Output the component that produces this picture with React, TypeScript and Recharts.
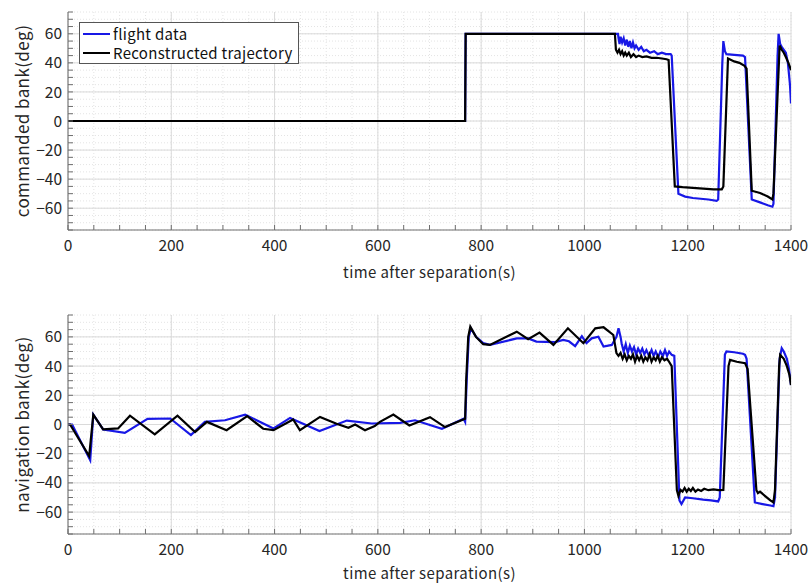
import React from "react";
import {
  LineChart,
  Line,
  XAxis,
  YAxis,
  CartesianGrid,
  Legend,
} from "recharts";

// [time (s), bank (deg)]
const cmdFlight: [number, number][] = [
  [0, 0], [769, 0], [770, 60], [1065, 60], [1066, 57], [1068, 53], [1070, 58],
  [1073, 54], [1076, 57], [1079, 52], [1082, 56], [1085, 51], [1088, 55],
  [1091, 50], [1094, 54], [1097, 50], [1100, 52], [1105, 49], [1110, 51],
  [1115, 48], [1120, 49], [1127, 47], [1135, 48], [1142, 46], [1150, 47],
  [1158, 46], [1167, 46], [1169, 45], [1182, -50], [1195, -52], [1210, -53],
  [1225, -53.5], [1240, -54], [1256, -55], [1259, -54], [1267, 40], [1269, 55],
  [1272, 48], [1275, 46], [1290, 45.5], [1307, 45], [1311, 44], [1324, -54],
  [1340, -56], [1355, -58], [1364, -59], [1366, -57], [1374, 45], [1376, 60],
  [1379, 53], [1382, 51], [1390, 47], [1394, 40], [1398, 25], [1400, 12],
];

const cmdRecon: [number, number][] = [
  [0, 0], [769, 0], [770, 60], [1059, 60], [1061, 49], [1064, 47], [1067, 49],
  [1070, 46], [1073, 48], [1076, 45], [1079, 47], [1082, 45], [1086, 47],
  [1090, 44], [1095, 46], [1100, 44], [1105, 45], [1112, 44], [1120, 44.5],
  [1130, 43.5], [1140, 43.5], [1150, 43], [1159, 42.5], [1163, 42],
  [1175, -45], [1190, -45.5], [1210, -46], [1230, -46.5], [1250, -47],
  [1266, -47], [1269, -45], [1278, 43], [1290, 41], [1300, 40], [1310, 38],
  [1314, 36], [1324, -48], [1340, -49.5], [1355, -52], [1364, -54],
  [1366, -50], [1378, 52], [1382, 49], [1386, 47], [1390, 44], [1395, 40],
  [1400, 35],
];

const navFlight: [number, number][] = [
  [0, 0], [8, 0], [43, -24.5], [49, 6.8], [68, -3.4], [110, -5.7], [154, 3.9],
  [198, 4.1], [238, -7.3], [265, 1.8], [304, 2.9], [343, 6.8], [398, -2.7],
  [430, 4.5], [487, -4.5], [540, 2.7], [588, 0.7], [643, 1.1], [672, 2.9],
  [724, -2.9], [766, 3.9], [769, 1.8], [772, 30], [776, 60], [780, 66],
  [790, 60], [804, 55.7], [817, 54.5], [869, 59], [891, 59], [907, 56.8],
  [943, 56.4], [959, 58], [970, 57], [982, 53.7], [995, 60.5], [1004, 55.7],
  [1014, 59], [1027, 60.1], [1037, 53.4], [1053, 54.5], [1062, 60],
  [1066, 65.9], [1070, 60], [1072, 55.7], [1076, 50], [1080, 55], [1084, 49],
  [1088, 54], [1092, 50], [1096, 53], [1100, 48], [1104, 52], [1108, 49],
  [1112, 52], [1116, 48], [1120, 51], [1125, 47], [1130, 51], [1134, 47],
  [1138, 50], [1143, 46], [1147, 50], [1152, 47], [1156, 51], [1160, 47],
  [1164, 50], [1169, 47.7], [1174, 47], [1184, -52], [1188, -54.5],
  [1195, -50], [1210, -50.5], [1230, -51.5], [1245, -52], [1259, -52.7],
  [1262, -50], [1272, 48], [1275, 50], [1290, 49.5], [1307, 48.5],
  [1311, 47.7], [1314, 45], [1330, -53.4], [1345, -54.5], [1360, -55.5],
  [1366, -56], [1369, -50], [1378, 45], [1382, 52.3], [1386, 50], [1392, 45],
  [1396, 38], [1400, 27],
];

const navRecon: [number, number][] = [
  [0, 0], [4, 0], [41, -21.6], [49, 6.8], [68, -3.4], [97, -2.7], [120, 6],
  [168, -6.8], [212, 6], [246, -5.2], [269, 1.8], [307, -3.9], [347, 5.7],
  [378, -2.9], [398, -3.9], [436, 3.4], [449, -3.9], [488, 5.2], [520, 0.5],
  [543, -2.3], [556, 0], [575, -3.9], [594, -1.1], [604, 1.8], [630, 6.8],
  [661, -0.7], [701, 5], [730, -1.8], [769, 3.9], [771, 30], [775, 60],
  [779, 67], [790, 60], [804, 55], [817, 54.5], [869, 63.6], [891, 58.4],
  [913, 62.9], [940, 54.5], [968, 65.9], [998, 55.7], [1021, 65.9],
  [1037, 66.6], [1056, 61.3], [1062, 48.9], [1066, 47], [1070, 49], [1074, 45],
  [1078, 48], [1082, 44], [1086, 47], [1090, 45], [1094, 48], [1098, 43],
  [1102, 47], [1106, 44], [1110, 47], [1114, 43], [1118, 46], [1122, 44],
  [1126, 48], [1130, 43], [1134, 46], [1138, 44], [1142, 47], [1146, 43],
  [1150, 46], [1155, 44], [1160, 45], [1163, 43.5], [1169, 40], [1179, -45],
  [1182, -49], [1186, -44.8], [1190, -46], [1194, -43.5], [1198, -46],
  [1202, -44], [1206, -45.5], [1210, -43.5], [1215, -46], [1220, -44.5],
  [1226, -45.5], [1232, -44], [1240, -45], [1250, -44.5], [1260, -45],
  [1269, -44.8], [1279, 40], [1282, 44.3], [1295, 43], [1311, 42], [1316, 38],
  [1333, -45], [1336, -47], [1340, -46], [1350, -49], [1360, -52],
  [1366, -53.4], [1369, -45], [1377, 40], [1379, 47.7], [1386, 45],
  [1392, 40], [1397, 34], [1400, 27],
];

const xMajor = [0, 200, 400, 600, 800, 1000, 1200, 1400];
const xMinor = Array.from({ length: 29 }, (_, i) => i * 50);
const yMajor = [-60, -40, -20, 0, 20, 40, 60];
const yMinor = Array.from({ length: 31 }, (_, i) => -75 + i * 5);

const FONT = '"Noto Sans CJK JP", "Noto Sans", sans-serif';
const BLUE = "#1818e6";
const FRAME = "#6e6e6e";
const TEXT = "#262626";

const rows = (pts: [number, number][]) => pts.map(([t, v]) => ({ t, v }));

const fmt = (v: number) => (v < 0 ? "\u2212" + Math.abs(v) : String(v));

const XTick = (props: any) => {
  const { x, y, payload } = props;
  if (payload.value % 200 !== 0) return <g />;
  return (
    <text x={x} y={y} dy="0.71em" textAnchor="middle" fill={TEXT}
      fontSize={15.5} fontFamily={FONT}>
      {payload.value}
    </text>
  );
};

const YTick = (props: any) => {
  const { x, y, payload } = props;
  if (payload.value % 20 !== 0) return <g />;
  return (
    <text x={x} y={y} dy="0.36em" textAnchor="end" fill={TEXT}
      fontSize={15.5} fontFamily={FONT}>
      {fmt(payload.value)}
    </text>
  );
};

const LegendBox = () => (
  <div
    style={{
      border: "1px solid #555",
      background: "#fff",
      padding: "1px 5px 1px 3px",
      fontFamily: FONT,
      fontSize: 15,
      color: "#111",
      lineHeight: "19px",
      whiteSpace: "nowrap",
      letterSpacing: 0.3,
    }}
  >
    {[
      { name: "flight data", color: BLUE },
      { name: "Reconstructed trajectory", color: "#000" },
    ].map((e) => (
      <div key={e.name} style={{ display: "flex", alignItems: "center" }}>
        <span
          style={{
            display: "inline-block",
            width: 27,
            height: 0,
            borderTop: `2px solid ${e.color}`,
            marginRight: 3,
          }}
        />
        {e.name}
      </div>
    ))}
  </div>
);

function Panel({
  flight,
  recon,
  ylabel,
  height,
  marginTop,
  xAxisHeight,
  labelOffset,
  legend,
}: {
  flight: [number, number][];
  recon: [number, number][];
  ylabel: string;
  height: number;
  marginTop: number;
  xAxisHeight: number;
  labelOffset: number;
  legend?: boolean;
}) {
  return (
    <LineChart
      width={810}
      height={height}
      margin={{ top: marginTop, right: 19, bottom: 0, left: 0 }}
    >
      <CartesianGrid
        verticalValues={xMinor}
        horizontalValues={yMinor}
        stroke="#e4e4e4"
        strokeDasharray="1 2"
      />
      <CartesianGrid
        verticalValues={xMajor}
        horizontalValues={yMajor}
        stroke="#dadada"
      />
      <XAxis
        dataKey="t"
        type="number"
        domain={[0, 1400]}
        ticks={xMinor}
        interval={0}
        height={xAxisHeight}
        tickSize={-5}
        tickMargin={15}
        tick={<XTick />}
        stroke={FRAME}
        allowDataOverflow
        label={{
          value: "time after separation(s)",
          position: "insideBottom",
          offset: labelOffset,
          fill: TEXT,
          fontSize: 15,
          letterSpacing: 0.4,
          fontFamily: FONT,
        }}
      />
      <XAxis
        xAxisId="top"
        orientation="top"
        type="number"
        domain={[0, 1400]}
        ticks={xMinor}
        interval={0}
        height={0}
        tickSize={-5}
        tick={false}
        stroke={FRAME}
      />
      <YAxis
        type="number"
        domain={[-75, 75]}
        ticks={yMinor}
        interval={0}
        width={68}
        tickSize={-5}
        tickMargin={11}
        tick={<YTick />}
        stroke={FRAME}
        allowDataOverflow
        label={{
          value: ylabel,
          angle: -90,
          position: "center",
          dx: -11,
          fill: TEXT,
          fontSize: 17,
          letterSpacing: 0.4,
          fontFamily: FONT,
        }}
      />
      <YAxis
        yAxisId="right"
        orientation="right"
        type="number"
        domain={[-75, 75]}
        ticks={yMinor}
        interval={0}
        width={0}
        tickSize={-5}
        tick={false}
        stroke={FRAME}
      />
      {legend && (
        <Legend
          layout="horizontal"
          verticalAlign="middle"
          align="center"
          content={<LegendBox />}
          wrapperStyle={{ position: "absolute", left: 79, top: 22, width: "auto", height: "auto" }}
        />
      )}
      <Line
        data={rows(flight)}
        dataKey="v"
        name="flight data"
        stroke={BLUE}
        strokeWidth={2.2}
        dot={false}
        isAnimationActive={false}
      />
      <Line
        data={rows(recon)}
        dataKey="v"
        name="Reconstructed trajectory"
        stroke="#000"
        strokeWidth={2.2}
        dot={false}
        isAnimationActive={false}
      />
    </LineChart>
  );
}

export default function App() {
  return (
    <div style={{ position: "absolute", left: 0, top: 0, width: 810, height: 583, background: "#fff" }}>
      <div style={{ position: "absolute", left: 0, top: 0 }}>
        <Panel
          flight={cmdFlight}
          recon={cmdRecon}
          ylabel="commanded bank(deg)"
          height={285}
          marginTop={12}
          xAxisHeight={55}
          labelOffset={7}
          legend
        />
      </div>
      <div style={{ position: "absolute", left: 0, top: 290 }}>
        <Panel
          flight={navFlight}
          recon={navRecon}
          ylabel="navigation bank(deg)"
          height={293}
          marginTop={25}
          xAxisHeight={49}
          labelOffset={4}
        />
      </div>
    </div>
  );
}
